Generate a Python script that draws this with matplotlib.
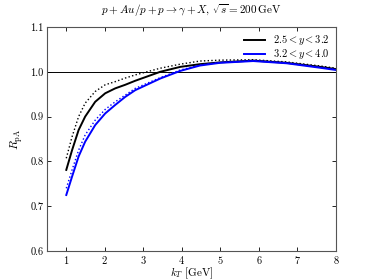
import matplotlib
matplotlib.use('Agg')
from matplotlib import pyplot as plt

plt.rcParams['mathtext.fontset'] = 'cm'
plt.rcParams['font.family'] = ['cmr10', 'DejaVu Serif']
plt.rcParams['axes.formatter.use_mathtext'] = True

kt = [1.0, 1.15, 1.32, 1.49, 1.75, 2.01, 2.27, 2.53, 2.79, 3.44, 3.96,
      4.47, 4.99, 5.85, 6.72, 7.59, 8.0]

# 2.5 < y < 3.2
black_solid = [0.781, 0.825, 0.870, 0.900, 0.933, 0.952, 0.963, 0.971, 0.980,
               1.000, 1.011, 1.017, 1.021, 1.025, 1.020, 1.011, 1.006]
black_dotted = [0.807, 0.855, 0.900, 0.930, 0.956, 0.971, 0.978, 0.986, 0.993,
                1.008, 1.017, 1.024, 1.026, 1.027, 1.022, 1.013, 1.008]

# 3.2 < y < 4.0
blue_solid = [0.725, 0.766, 0.811, 0.844, 0.881, 0.907, 0.926, 0.944, 0.959,
              0.985, 1.002, 1.014, 1.020, 1.024, 1.019, 1.009, 1.004]
blue_dotted = [0.740, 0.781, 0.825, 0.859, 0.892, 0.916, 0.933, 0.948, 0.963,
               0.987, 1.004, 1.015, 1.021, 1.025, 1.020, 1.010, 1.005]

labels = [r'$2.5 < y < 3.2$', r'$3.2 < y < 4.0$']

fig = plt.figure(figsize=(3.74, 2.80), dpi=100)
ax = fig.add_axes([0.1257, 0.1036, 0.7727, 0.8])

ax.axhline(1.0, color='black', lw=0.7)
ax.plot(kt, black_solid, color='black', lw=1.4, label=labels[0])
ax.plot(kt, black_dotted, color='black', lw=1.0, ls=':')
ax.plot(kt, blue_solid, color='blue', lw=1.4, label=labels[1])
ax.plot(kt, blue_dotted, color='blue', lw=1.0, ls=':')

ax.set_xlim(0.5, 8)
ax.set_ylim(0.6, 1.1)
ax.set_xticks(range(1, 9))
ax.set_yticks([0.6, 0.7, 0.8, 0.9, 1.0, 1.1])
ax.set_yticklabels(['0.6', '0.7', '0.8', '0.9', '1.0', '1.1'])
ax.tick_params(direction='in', top=True, right=True, labelsize=7.5,
               length=3, width=0.6, pad=2.5)
for sp in ax.spines.values():
    sp.set_color('#555555')
    sp.set_linewidth(0.8)

ax.set_xlabel(r'$k_T\ [\mathrm{GeV}]$', fontsize=8)
ax.xaxis.set_label_coords(0.5, -0.066)
ax.set_ylabel(r'$R_{\mathrm{pA}}$', fontsize=8.5, labelpad=4)
ax.set_title(r'$p + Au/p + p \rightarrow \gamma + X,\, \sqrt{s} = 200\,\mathrm{GeV}$',
             fontsize=8, pad=9)

ax.legend(loc='upper right', frameon=False, fontsize=7.5, handlelength=2.0,
          labelspacing=0.0, borderaxespad=0.2, handletextpad=0.8)

fig.savefig('out.png', dpi=100)
